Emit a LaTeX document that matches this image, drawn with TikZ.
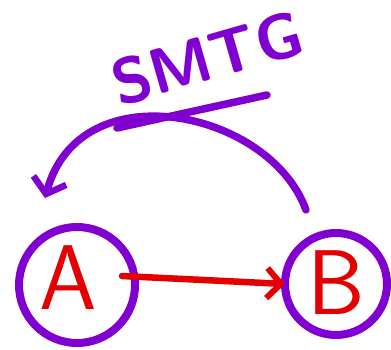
\documentclass[tikz,border=0pt]{standalone}
\usetikzlibrary{arrows.meta}
\definecolor{inkviolet}{RGB}{128,0,210}
\definecolor{inkred}{RGB}{228,0,0}
\tikzset{
  ring/.style={circle, draw=inkviolet, line width=8pt, inner sep=0pt, outer sep=0pt},
  letter/.style={text=inkred, font=\sffamily\fontsize{92}{92}\selectfont, inner sep=0pt},
  redlink/.style={draw=inkred, line width=6.5pt, line cap=round, -{Straight Barb[length=14pt,width=30pt,line width=6pt]}},
  violetlink/.style={draw=inkviolet, line width=7.5pt, line cap=round, -{Straight Barb[length=14pt,width=34pt,line width=6.5pt]}},
  scribble/.style={draw=inkviolet, line width=7.5pt, line cap=round},
  caption/.style={text=inkviolet, font=\sffamily\bfseries\fontsize{64}{64}\selectfont, inner sep=0pt}
}
\begin{document}
\begin{tikzpicture}[x=1pt,y=-1pt]
\useasboundingbox (0,0) rectangle (391,350);
\node[ring, minimum size=116pt] (A) at (77,285) {};
\node[ring, minimum size=102pt] (B) at (336,284) {};
\node[letter] (Atext) at (68,278) {A};
\node[letter] (Btext) at (336,283) {B};
\draw[redlink] ([xshift=-13pt,yshift=9pt]A.east) -- (B.west);
\coordinate (arcstart) at (306,210);
\coordinate (arcend) at (45,198);
\draw[violetlink] (arcstart) .. controls (270,110) and (80,70) .. (arcend);
\coordinate (s1) at (117,128);
\coordinate (s2) at (267,95);
\draw[scribble] (s1) -- (s2);
\node[caption, rotate=16] (label) at (207,58) {SMTG};
\end{tikzpicture}
\end{document}
